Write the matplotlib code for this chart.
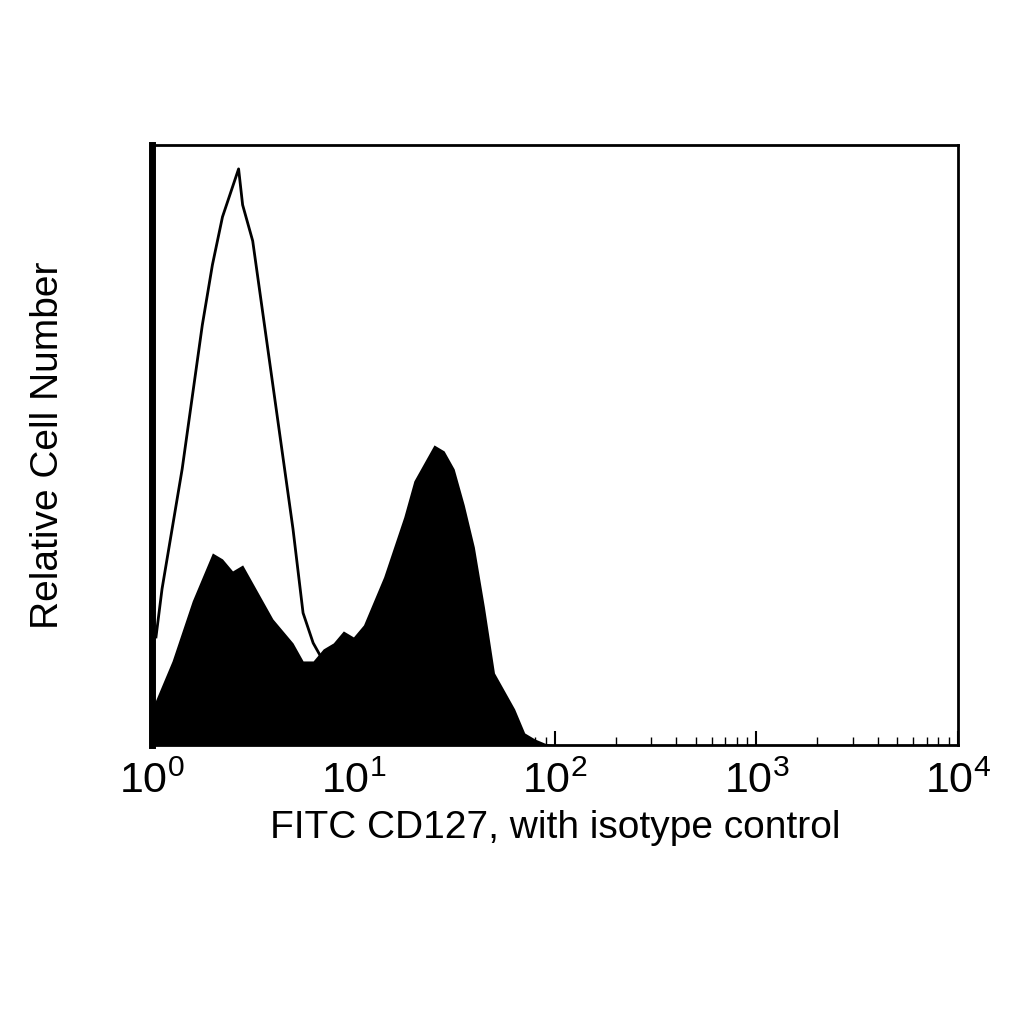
import matplotlib
matplotlib.use("Agg")
import matplotlib.pyplot as plt
import numpy as np

plt.rcParams['font.family'] = ['Liberation Sans', 'DejaVu Sans']

cd127_logx = [0.00,0.05,0.10,0.15,0.20,0.25,0.30,0.35,0.40,0.45,0.50,0.55,0.60,0.65,0.70,0.75,0.80,0.85,0.90,0.95,
              1.00,1.05,1.10,1.15,1.20,1.25,1.30,1.35,1.40,1.45,1.50,1.55,1.60,1.65,1.70,1.75,1.80,1.85,1.90,1.95,2.00,4.00]
cd127_counts = [6,10,14,19,24,28,32,31,29,30,27,24,21,19,17,14,14,16,17,19,
                18,20,24,28,33,38,44,47,50,49,46,40,33,23,12,9,6,2,1,0.3,0,0]
iso_logx = [0.02,0.05,0.10,0.15,0.20,0.25,0.30,0.35,0.40,0.43,0.45,0.50,0.55,0.60,0.65,0.70,0.75,0.80,0.85,0.90,0.95,1.00,1.10,1.20]
iso_counts = [18,26,36,46,58,70,80,88,93,96,90,84,72,60,48,36,22,17,14,13,10,6,2,0]

fig = plt.figure(figsize=(10.24, 10.24), dpi=100)
ax = fig.add_axes([0.1484, 0.2725, 0.787, 0.586])
xf = 10 ** np.array(cd127_logx)
ax.fill_between(xf, cd127_counts, 0, color='black', linewidth=0)
xi = 10 ** np.array(iso_logx)
ax.plot(xi, iso_counts, color='black', lw=2)

ax.set_xscale('log')
ax.set_xlim(1, 1e4)
ax.set_ylim(0, 100)
ax.set_yticks([])
for s in ax.spines.values():
    s.set_linewidth(2)
ax.spines['left'].set_linewidth(5)
ax.tick_params(axis='x', which='major', direction='in', length=10, width=1.5, labelsize=31, pad=12)
ax.tick_params(axis='x', which='minor', direction='in', length=6, width=1)
ax.set_xlabel('FITC CD127, with isotype control', fontsize=28, labelpad=6)
ax.set_ylabel('Relative Cell Number', fontsize=28, labelpad=62)
fig.savefig('out.png', dpi=100, facecolor='white')
